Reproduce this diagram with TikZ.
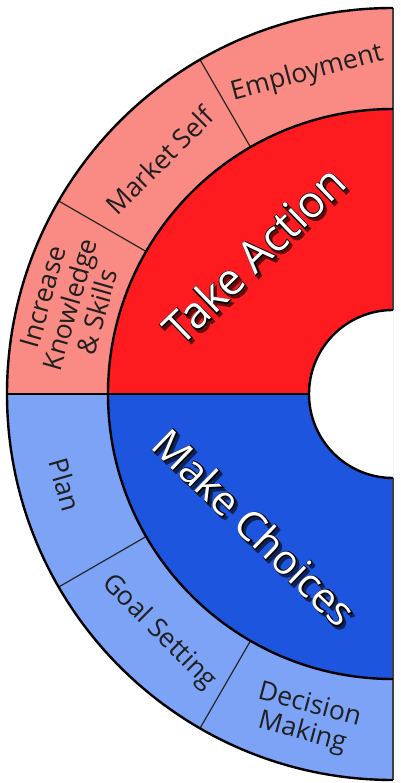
\documentclass[tikz,border=0pt]{standalone}
\usepackage{fontspec}
\setmainfont{Open Sans}
\newfontfamily\ringoutline[FakeBold=4]{Open Sans}
\usepackage{xcolor}
\usetikzlibrary{calc}
\definecolor{actionred}{HTML}{FE1B1F}
\definecolor{actionpink}{HTML}{F98A84}
\definecolor{choiceblue}{HTML}{1E55DF}
\definecolor{choicesky}{HTML}{7CA3F6}

\begin{document}
\begin{tikzpicture}[x=1pt, y=1pt,
    rim/.style={draw=black, line width=2.4pt, line join=round},
    divider/.style={draw=black!85, line width=1.2pt},
    edge/.style={draw=black!75, line width=1.4pt},
    steplabel/.style={font=\fontsize{26.5}{28}\selectfont, text=black!88,
        align=center, inner sep=0pt},
    corelabel/.style={font=\fontsize{#1}{#1}\selectfont, text=white, inner sep=0pt},
    coreedge/.style={font=\ringoutline\fontsize{#1}{#1}\selectfont, text=black, inner sep=0pt},
    coreshadow/.style={font=\ringoutline\fontsize{#1}{#1}\selectfont, inner sep=0pt}
]
\useasboundingbox (-393,-389) rectangle (7,394);
% outer ring of steps
\fill[actionpink] (0,0) -- (90:386) arc (90:180:386) -- cycle;
\fill[choicesky] (0,0) -- (180:386) arc (180:270:386) -- cycle;
% core ring
\fill[actionred] (90:84) -- (90:285) arc (90:180:285) -- (180:84) arc (180:90:84) -- cycle;
\fill[choiceblue] (180:84) -- (180:285) arc (180:270:285) -- (270:84) arc (270:180:84) -- cycle;
\fill[white] (90:84) arc (90:270:84) -- cycle;
% dividers between steps
\draw[divider] (120:285) -- (120:386);
\draw[divider] (150:285) -- (150:386);
\draw[divider] (210:285) -- (210:386);
\draw[divider] (240:285) -- (240:386);
% outlines
\draw[edge] (0,84) -- (0,386);
\draw[edge] (0,-84) -- (0,-386);
\draw[rim] (90:386) arc (90:270:386);
\draw[rim] (90:285) arc (90:270:285);
\draw[rim] (90:84) arc (90:270:84);
\draw[rim] (180:84) -- (180:386);
% step labels
\node[steplabel, rotate=15] (employment) at (105:332) {Employment};
\node[steplabel, rotate=45] (market) at (135:330) {Market Self};
\node[steplabel, rotate=74] (knowledge) at (164.5:335) {Increase\\Knowledge\\\& Skills};
\node[steplabel, rotate=-74] (plan) at (195.5:340) {Plan};
\node[steplabel, rotate=-45] (goal) at (225.5:334) {Goal Setting};
\node[steplabel, rotate=-15] (decision) at (255:337) {Decision\\Making};
% core labels: shadow, outline, face
\node[coreshadow=44, text=black!60!actionred, rotate=44] at ($(135:197)+(2.5,-3)$) {Take Action};
\node[coreedge=44, rotate=44] at (135:197) {Take Action};
\node[corelabel=44, rotate=44] (action) at (135:197) {Take Action};
\node[coreshadow=41, text=black!60!choiceblue, rotate=-44] at ($(224:192)+(2.5,-3)$) {Make Choices};
\node[coreedge=41, rotate=-44] at (224:192) {Make Choices};
\node[corelabel=41, rotate=-44] (choices) at (224:192) {Make Choices};
\end{tikzpicture}
\end{document}
